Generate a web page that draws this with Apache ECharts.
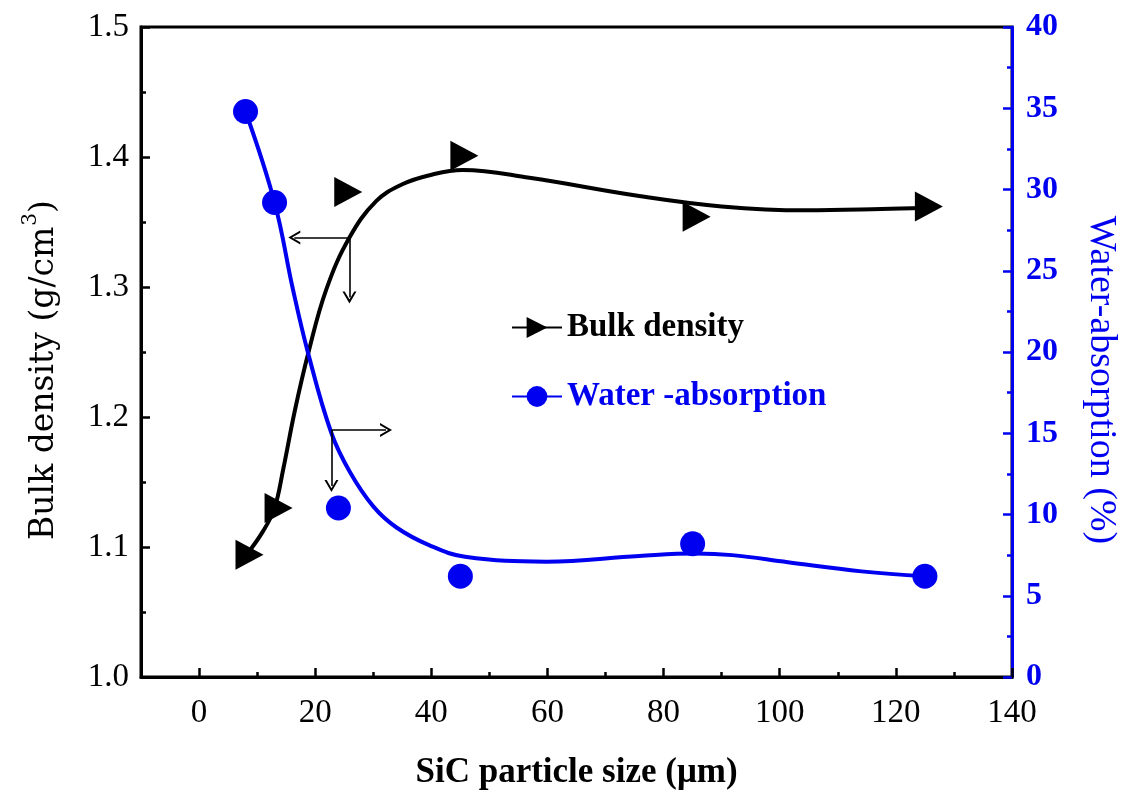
<!DOCTYPE html>
<html>
<head>
<meta charset="utf-8">
<script src="https://cdn.jsdelivr.net/npm/echarts@6/dist/echarts.min.js"></script>
<style>html,body{margin:0;padding:0;background:#fff;}#c{width:1128px;height:800px;}</style>
</head>
<body>
<div id="c"></div>
<script>
// measured points
const sizeX = [8, 13, 25, 45, 85, 125];
const bulkDensity = [1.094, 1.130, 1.373, 1.401, 1.354, 1.362];
const waterX = [8, 13, 24, 45, 85, 125];
const waterAbs = [34.8, 29.2, 10.4, 6.2, 8.2, 6.2];
// fitted curves
const bulkFitX = [8, 11, 13, 14.5, 16.5, 18.8, 21.9, 25.9, 30.5, 35, 39.7, 45.4, 56.9, 75.8, 90, 104.5, 117.5, 125];
const bulkFitY = [1.093, 1.112, 1.130, 1.160, 1.205, 1.249, 1.298, 1.338, 1.366, 1.379, 1.386, 1.390, 1.384, 1.370, 1.362, 1.359, 1.360, 1.361];
const waterFitX = [8, 13, 16.2, 18.8, 22.8, 26, 30, 34, 39.7, 45.8, 59.8, 75.8, 85.4, 91.8, 101.4, 114.1, 125];
const waterFitY = [34.8, 29.2, 23.8, 19.9, 15.0, 12.6, 10.5, 9.2, 8.1, 7.4, 7.1, 7.45, 7.6, 7.5, 7.06, 6.5, 6.2];
// annotation arrows
const arrowBulk = { x: 25.9, y: 1.338, toX: 16.4, toY: 1.292 };
const arrowWater = { x: 22.8, y: 15.2, toX: 32.2, toY: 11.75 };
// ticks
const xMajor = [0, 20, 40, 60, 80, 100, 120, 140];
const xMinor = [10, 30, 50, 70, 90, 110, 130];

const BLUE = '#0000f0';
const FONT = 'Liberation Serif';
const chevron = 'path://M0,10 L5,0 L10,10 L8.4,10 L5,3.2 L1.6,10 Z';

const zip = (a, b) => a.map((v, i) => [v, b[i]]);

const chart = echarts.init(document.getElementById('c'), null, { renderer: 'canvas' });
chart.setOption({
  animation: false,
  backgroundColor: '#fff',
  grid: { left: 141, right: 111, top: 27, bottom: 123, show: true, borderColor: '#000', borderWidth: 3, backgroundColor: 'transparent' },
  legend: {
    orient: 'vertical', left: 506, top: 306, itemWidth: 50, itemHeight: 26, itemGap: 36,
    textStyle: { fontFamily: FONT, fontSize: 33, fontWeight: 'bold', lineHeight: 30 },
    data: [
      { name: 'Bulk density', textStyle: { color: '#000' } },
      { name: 'Water -absorption', textStyle: { color: BLUE } }
    ]
  },
  xAxis: [{
    type: 'value', min: -10, max: 140, interval: 10, position: 'bottom',
    name: 'SiC particle size (\u03bcm)', nameLocation: 'middle', nameGap: 78,
    nameTextStyle: { fontFamily: FONT, fontSize: 35, fontWeight: 'bold', color: '#000' },
    axisLine: { show: true, onZero: false, lineStyle: { color: '#000', width: 3 } },
    axisTick: { show: true, inside: true, length: 9, lineStyle: { width: 2.5, color: '#000' }, customValues: xMajor },
    axisLabel: { fontFamily: FONT, fontSize: 33, color: '#000', margin: 20, customValues: xMajor },
    splitLine: { show: false }
  }, {
    type: 'value', min: -10, max: 140, interval: 10, position: 'bottom', offset: 0,
    axisLine: { show: false },
    axisTick: { show: true, inside: true, length: 5, lineStyle: { width: 2.5, color: '#000' }, customValues: xMinor },
    axisLabel: { show: false },
    splitLine: { show: false }
  }],
  yAxis: [{
    type: 'value', min: 1.0, max: 1.5, interval: 0.1, position: 'left',
    name: '{a|Bulk density (g/cm}{s|3}{a|)}', nameLocation: 'middle', nameGap: 80, nameRotate: 90,
    nameTextStyle: {
      fontFamily: 'DejaVu Serif', fontSize: 33, color: '#000', padding: [0, 36, 0, 0],
      rich: {
        a: { fontFamily: 'DejaVu Serif', fontSize: 33, color: '#000', lineHeight: 40, verticalAlign: 'bottom' },
        s: { fontFamily: 'DejaVu Serif', fontSize: 20, color: '#000', lineHeight: 40, verticalAlign: 'top', padding: [0, 0, 0, 1] }
      }
    },
    axisLine: { show: true, onZero: false, lineStyle: { color: '#000', width: 3 } },
    axisTick: { show: true, inside: true, length: 9, lineStyle: { width: 2.5, color: '#000' } },
    minorTick: { show: true, splitNumber: 2, length: 5, lineStyle: { width: 2.5, color: '#000' } },
    axisLabel: { fontFamily: FONT, fontSize: 33, color: '#000', margin: 12, formatter: v => v.toFixed(1) },
    splitLine: { show: false }
  }, {
    type: 'value', min: 0, max: 40, interval: 5, position: 'right',
    name: 'Water-absorption (%)', nameLocation: 'middle', nameGap: 70, nameRotate: -90,
    nameTextStyle: { fontFamily: FONT, fontSize: 38, color: BLUE, padding: [0, 0, 0, 56] },
    axisLine: { show: true, onZero: false, lineStyle: { color: BLUE, width: 3 } },
    axisTick: { show: true, inside: true, length: 9, lineStyle: { width: 2.5, color: BLUE } },
    minorTick: { show: true, splitNumber: 2, length: 5, lineStyle: { width: 2.5, color: BLUE } },
    axisLabel: { fontFamily: FONT, fontSize: 32, fontWeight: 'bold', color: BLUE, margin: 14 },
    splitLine: { show: false }
  }],
  series: [
    {
      name: 'Bulk density', type: 'line', xAxisIndex: 0, yAxisIndex: 0,
      data: zip(bulkFitX, bulkFitY), smooth: 0.4, showSymbol: false,
      symbol: 'triangle', symbolRotate: -90, symbolSize: [30, 28],
      lineStyle: { color: '#000', width: 4 }, itemStyle: { color: '#000' }, z: 3,
      markLine: {
        silent: true, symbol: ['none', chevron], symbolSize: [14, 12],
        lineStyle: { color: '#000', width: 1.6, type: 'solid' }, label: { show: false },
        data: [
          [{ coord: [arrowBulk.x, arrowBulk.y] }, { coord: [arrowBulk.toX, arrowBulk.y] }],
          [{ coord: [arrowBulk.x, arrowBulk.y] }, { coord: [arrowBulk.x, arrowBulk.toY] }]
        ]
      }
    },
    {
      name: 'Bulk density points', type: 'scatter', xAxisIndex: 0, yAxisIndex: 0,
      data: zip(sizeX, bulkDensity), symbol: 'triangle', symbolRotate: -90, symbolSize: [30, 28],
      symbolOffset: [4, 0], itemStyle: { color: '#000', opacity: 1 }, z: 4
    },
    {
      name: 'Water -absorption', type: 'line', xAxisIndex: 0, yAxisIndex: 1,
      data: zip(waterFitX, waterFitY), smooth: 0.4, showSymbol: false,
      symbol: 'circle', symbolSize: 25,
      lineStyle: { color: BLUE, width: 4 }, itemStyle: { color: BLUE }, z: 3,
      markLine: {
        silent: true, symbol: ['none', chevron], symbolSize: [14, 12],
        lineStyle: { color: '#000', width: 1.6, type: 'solid' }, label: { show: false },
        data: [
          [{ coord: [arrowWater.x, arrowWater.y] }, { coord: [arrowWater.toX, arrowWater.y] }],
          [{ coord: [arrowWater.x, arrowWater.y] }, { coord: [arrowWater.x, arrowWater.toY] }]
        ]
      }
    },
    {
      name: 'Water points', type: 'scatter', xAxisIndex: 0, yAxisIndex: 1,
      data: zip(waterX, waterAbs), symbol: 'circle', symbolSize: 25,
      itemStyle: { color: BLUE, opacity: 1 }, z: 4
    }
  ]
});
</script>
</body>
</html>
